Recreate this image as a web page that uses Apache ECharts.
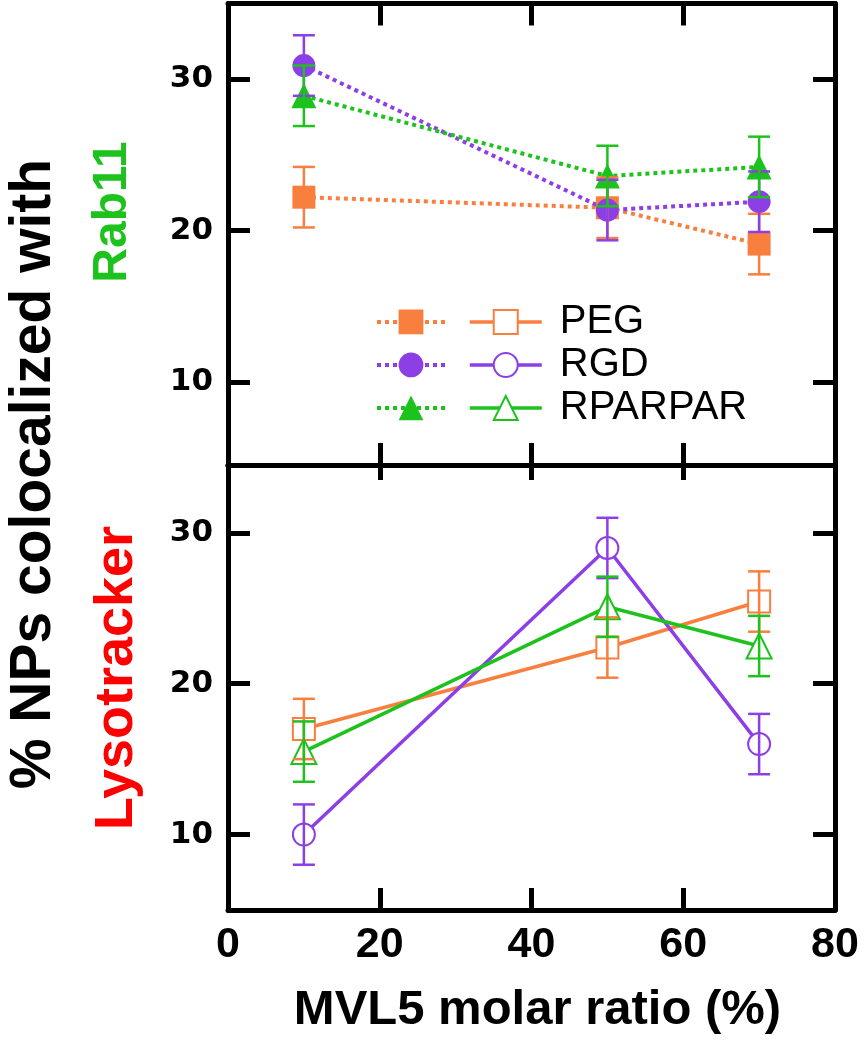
<!DOCTYPE html>
<html>
<head>
<meta charset="utf-8">
<script src="https://cdn.jsdelivr.net/npm/echarts@6/dist/echarts.min.js"></script>
<style>
html,body{margin:0;padding:0;background:#fff;}
#chart{width:865px;height:1050px;}
</style>
</head>
<body>
<div id="chart"></div>
<script>
// ---- data ----
const xValues = [10, 50, 70];
const xTicks = [0, 20, 40, 60, 80];
const yTicks = [10, 20, 30];
const seriesNames = ['PEG', 'RGD', 'RPARPAR'];

const rab11PEG = [22.2, 21.5, 19.1];
const rab11RGD = [30.9, 21.35, 21.9];
const rab11RPARPAR = [28.9, 23.6, 24.2];
const rab11PEGErr = [2, 2, 2];
const rab11RGDErr = [2, 2, 2];
const rab11RPARPARErr = [2, 2, 2];

const lysoPEG = [17.0, 22.4, 25.45];
const lysoRGD = [10.0, 29.0, 16.0];
const lysoRPARPAR = [15.5, 25.1, 22.5];
const lysoPEGErr = [2, 2, 2];
const lysoRGDErr = [2, 2, 2];
const lysoRPARPARErr = [2, 2, 2];

const panelLabels = ['Rab11', 'Lysotracker'];
const yTitle = '% NPs colocalized with';
const xTitle = 'MVL5 molar ratio (%)';

// ---- styles ----
const COLORS = ['#F97F3F', '#8C3FE6', '#1DC21D'];
const filledSymbols = ['rect', 'circle', 'triangle'];
const emptySymbols = ['emptyRect', 'emptyCircle', 'emptyTriangle'];
const sans = "'Liberation Sans', Arial, sans-serif";

const chart = echarts.init(document.getElementById('chart'));

function frameAxis(grid, pos, extra) {
  const base = {
    type: 'value',
    gridIndex: grid,
    position: pos,
    axisLine: { show: true, onZero: false, lineStyle: { color: '#000', width: 5 } },
    axisTick: { show: true, inside: true, length: 22, lineStyle: { color: '#000', width: 5 } },
    axisLabel: { show: false },
    splitLine: { show: false }
  };
  return Object.assign(base, extra || {});
}

const xRange = { min: 0, max: 80, interval: 20 };
const yTop = { min: 4.5, max: 35 };
const yBot = { min: 5, max: 34.5 };

const xAxes = [
  frameAxis(0, 'bottom', Object.assign({}, xRange)),
  frameAxis(0, 'top', Object.assign({}, xRange)),
  frameAxis(1, 'bottom', Object.assign({}, xRange, {
    axisLabel: { show: true, margin: 14, color: '#000', fontFamily: sans, fontWeight: 'bold', fontSize: 43,
      customValues: xTicks },
    name: xTitle, nameLocation: 'middle', nameGap: 76,
    nameTextStyle: { color: '#000', fontFamily: sans, fontWeight: 'bold', fontSize: 49, padding: [0, 0, 0, 12] }
  })),
  frameAxis(1, 'top', Object.assign({}, xRange, { axisTick: { show: true, inside: true, length: 15, lineStyle: { color: '#000', width: 5 } } }))
];

function yAxisDef(grid, pos, range, labels) {
  return frameAxis(grid, pos, Object.assign({}, range, {
    axisTick: { show: true, inside: true, length: 22, customValues: yTicks, lineStyle: { color: '#000', width: 5 } },
    axisLabel: labels ? { show: true, margin: 15, color: '#000', fontFamily: "'DejaVu Sans', sans-serif", fontWeight: 'bold', fontSize: 31, customValues: yTicks } : { show: false, customValues: yTicks }
  }));
}

const yAxes = [
  yAxisDef(0, 'left', yTop, true),
  yAxisDef(0, 'right', yTop, false),
  yAxisDef(1, 'left', yBot, true),
  yAxisDef(1, 'right', yBot, false)
];

const rabSets = [rab11PEG, rab11RGD, rab11RPARPAR];
const rabErrs = [rab11PEGErr, rab11RGDErr, rab11RPARPARErr];
const lysoSets = [lysoPEG, lysoRGD, lysoRPARPAR];
const lysoErrs = [lysoPEGErr, lysoRGDErr, lysoRPARPARErr];

const series = [];
const topNames = seriesNames.map(n => n + ' (Rab11)');

seriesNames.forEach((name, i) => {
  series.push({
    name: topNames[i], type: 'line', xAxisIndex: 0, yAxisIndex: 0,
    data: xValues.map((x, k) => [x, rabSets[i][k]]),
    symbol: filledSymbols[i], symbolSize: i === 2 ? 25 : 23,
    color: COLORS[i],
    lineStyle: { color: COLORS[i], width: 4, type: 'dotted' },
    itemStyle: { color: COLORS[i] },
    z: 3, animation: false
  });
  series.push({
    name: name, type: 'line', xAxisIndex: 2, yAxisIndex: 2,
    data: xValues.map((x, k) => [x, lysoSets[i][k]]),
    symbol: emptySymbols[i], symbolSize: i === 2 ? 25 : 22,
    color: COLORS[i],
    lineStyle: { color: COLORS[i], width: 3.5, type: 'solid' },
    itemStyle: { color: COLORS[i], borderColor: COLORS[i], borderWidth: 3.5 },
    z: 3, animation: false
  });
});

function errSeries(xi, yi, values, errs, color) {
  return {
    type: 'custom', xAxisIndex: xi, yAxisIndex: yi, z: 5, animation: false, silent: true,
    data: xValues.map((x, k) => [x, values[k], errs[k]]),
    renderItem: function (params, api) {
      const x = api.value(0), y = api.value(1), e = api.value(2);
      const hi = api.coord([x, y + e]);
      const lo = api.coord([x, y - e]);
      const w = 11;
      const st = { stroke: color, lineWidth: 2.5, fill: null };
      return {
        type: 'group',
        children: [
          { type: 'line', shape: { x1: hi[0], y1: hi[1], x2: lo[0], y2: lo[1] }, style: st },
          { type: 'line', shape: { x1: hi[0] - w, y1: hi[1], x2: hi[0] + w, y2: hi[1] }, style: st },
          { type: 'line', shape: { x1: lo[0] - w, y1: lo[1], x2: lo[0] + w, y2: lo[1] }, style: st }
        ]
      };
    }
  };
}

seriesNames.forEach((name, i) => {
  series.push(errSeries(0, 0, rabSets[i], rabErrs[i], COLORS[i]));
  series.push(errSeries(2, 2, lysoSets[i], lysoErrs[i], COLORS[i]));
});

const option = {
  backgroundColor: '#fff',
  animation: false,
  grid: [
    { left: 228, right: 30, top: 3.5, height: 461.5, containLabel: false },
    { left: 228, right: 30, top: 465, height: 445, containLabel: false }
  ],
  xAxis: xAxes,
  yAxis: yAxes,
  legend: [
    {
      data: topNames, orient: 'vertical', left: 375, top: 309.5, padding: 0,
      itemWidth: 68, itemHeight: 31, itemGap: 18.2,
      formatter: function () { return ''; },
      textStyle: { fontSize: 10, lineHeight: 10 },
      lineStyle: { width: 4 },
      selectedMode: false
    },
    {
      data: seriesNames, orient: 'vertical', left: 468, top: 302, padding: 0,
      itemWidth: 72, itemHeight: 30, itemGap: 3,
      lineStyle: { width: 3.5 },
      textStyle: { color: '#000', fontSize: 40, lineHeight: 30, fontFamily: sans, padding: [0, 0, 0, 13] },
      selectedMode: false
    }
  ],
  graphic: [
    { type: 'text', x: 34, y: 474, rotation: Math.PI / 2,
      style: { text: yTitle, fill: '#000', font: "bold 57px 'Liberation Sans', Arial, sans-serif", textAlign: 'center', textVerticalAlign: 'middle' } },
    { type: 'text', x: 113, y: 212, rotation: Math.PI / 2,
      style: { text: panelLabels[0], fill: '#1DC21D', font: "bold 48px 'Liberation Sans', Arial, sans-serif", textAlign: 'center', textVerticalAlign: 'middle' } },
    { type: 'text', x: 117, y: 678, rotation: Math.PI / 2,
      style: { text: panelLabels[1], fill: '#FF0000', font: "bold 54px 'Liberation Sans', Arial, sans-serif", textAlign: 'center', textVerticalAlign: 'middle' } }
  ],
  series: series
};

chart.setOption(option);
</script>
</body>
</html>
